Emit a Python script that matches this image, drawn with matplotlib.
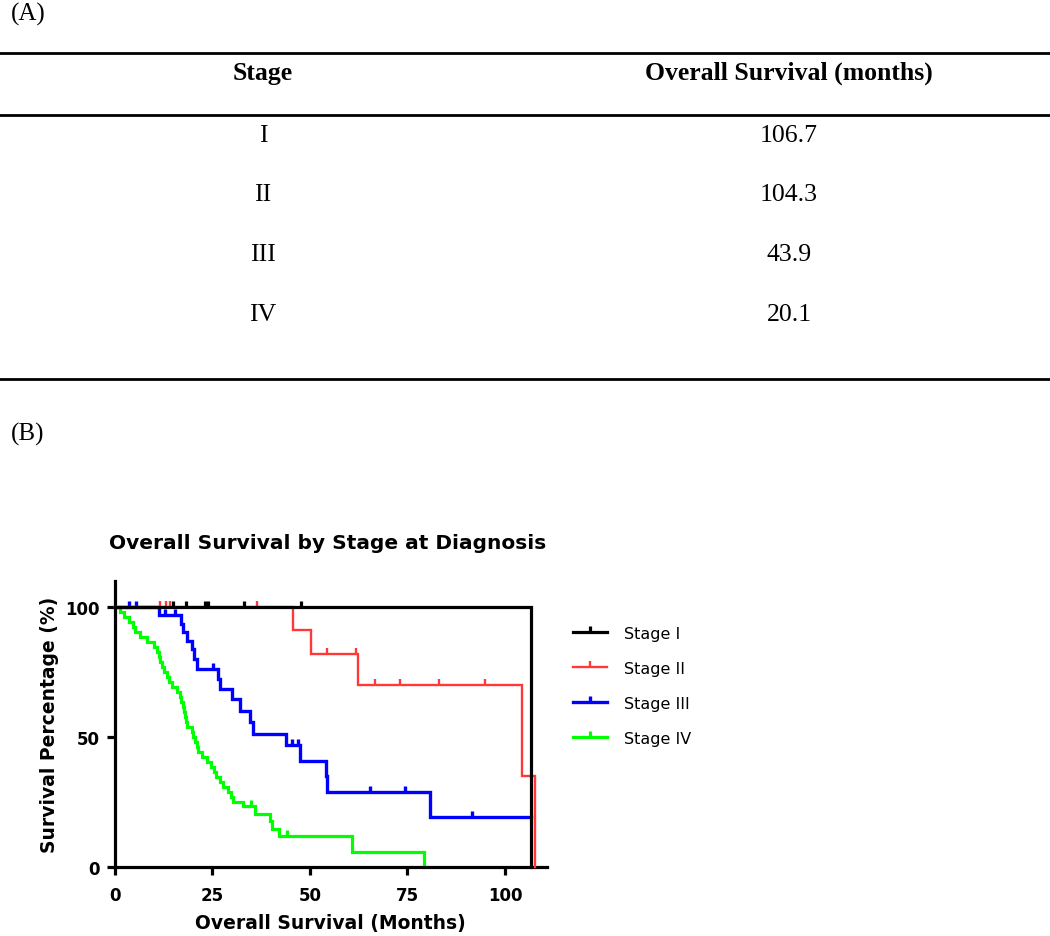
import numpy as np
import matplotlib
matplotlib.use("Agg")
import matplotlib.pyplot as plt
from matplotlib.path import Path
from matplotlib.lines import Line2D

# ---------------- (A) table data ----------------
table_headers = ["Stage", "Overall Survival (months)"]
table_stages = ["I", "II", "III", "IV"]
table_os_months = ["106.7", "104.3", "43.9", "20.1"]

# ---------------- (B) Kaplan-Meier data ----------------
series_labels = ["Stage I", "Stage II", "Stage III", "Stage IV"]
series_colors = ["#000000", "#FF3838", "#0000FF", "#00FF00"]

stage1_times = [0, 106.8]
stage1_surv = [100, 0]
stage1_censor = [15.0, 18.3, 23.0, 23.8, 33.1, 47.7]

stage2_times = [0, 45.7, 50.2, 62.4, 104.3, 107.7]
stage2_surv = [100, 90.9, 81.8, 70.1, 35.1, 0]
stage2_censor = [11.6, 13.2, 14.0, 36.3, 54.3, 61.8, 66.7, 73.2, 83.2, 95.0]

stage3_times = [0, 11.4, 16.8, 17.5, 18.4, 19.7, 20.3, 20.9, 26.5, 26.9, 29.9,
                32.1, 34.6, 35.5, 43.8, 47.4, 54.0, 54.4, 80.8, 106.8]
stage3_surv = [100, 96.7, 93.5, 90.3, 87.0, 83.8, 80.0, 76.2, 72.4, 68.5, 64.6,
               60.1, 55.7, 51.2, 46.7, 40.9, 34.8, 28.8, 19.1, 19.1]
stage3_censor = [3.5, 5.3, 12.8, 15.4, 25.2, 45.3, 47.0, 65.4, 74.4, 91.5]

stage4_times = [0, 1.2, 2.4, 3.6, 4.5, 5.1, 6.4, 8.2, 10.0, 10.7, 11.2, 11.6,
                12.1, 12.6, 13.3, 13.8, 14.5, 15.8, 16.7, 17.0, 17.5, 17.8,
                18.0, 18.2, 18.4, 19.7, 20.1, 20.5, 21.0, 21.4, 22.2, 23.5,
                24.6, 25.3, 25.8, 26.9, 27.8, 28.9, 29.7, 30.3, 32.9, 35.9,
                39.7, 40.3, 42.0, 60.7, 79.2]
stage4_surv = [100, 98.1, 96.2, 94.2, 92.3, 90.4, 88.5, 86.5, 84.6, 82.7, 80.8,
               78.8, 76.9, 75.0, 73.1, 71.2, 69.2, 67.3, 65.4, 63.5, 61.5, 59.6,
               57.7, 55.8, 53.8, 51.9, 50.0, 48.1, 46.2, 44.2, 42.3, 40.4,
               38.5, 36.5, 34.6, 32.7, 30.8, 28.8, 26.9, 25.0, 23.6, 20.4,
               17.5, 14.7, 11.8, 5.9, 0]
stage4_censor = [35.0, 44.0]

x_ticks = [0, 25, 50, 75, 100]
y_ticks = [0, 50, 100]

series = [
    (stage1_times, stage1_surv, stage1_censor, 2.3),
    (stage2_times, stage2_surv, stage2_censor, 1.7),
    (stage3_times, stage3_surv, stage3_censor, 2.4),
    (stage4_times, stage4_surv, stage4_censor, 2.3),
]

W, H = 1050, 937
fig = plt.figure(figsize=(W / 100, H / 100), dpi=100)
fig.patch.set_facecolor("white")

# ---------------- Table (A) ----------------
serif = ["Liberation Serif", "DejaVu Serif"]
ax_t = fig.add_axes([0, 1 - 400 / H, 1, 400 / H])
ax_t.set_xlim(0, W)
ax_t.set_ylim(400, 0)
ax_t.axis("off")
for yl in (54, 116, 380):
    ax_t.axhline(yl, color="black", lw=2.0)
ax_t.text(11, 21, "(A)", fontsize=18, family=serif, ha="left", va="baseline")
col_x = [263, 789]
for cx, hd in zip(col_x, table_headers):
    ax_t.text(cx, 80, hd, fontsize=18.5, family=serif, fontweight="bold",
              ha="center", va="baseline")
for i, (st, val) in enumerate(zip(table_stages, table_os_months)):
    yb = 141.5 + i * 60
    ax_t.text(col_x[0], yb, st, fontsize=18.5, family=serif, ha="center", va="baseline")
    ax_t.text(col_x[1], yb, val, fontsize=18.5, family=serif, ha="center", va="baseline")

fig.text(11 / W, 1 - 441 / H, "(B)", fontsize=18, family=serif, ha="left", va="baseline")

# ---------------- Kaplan-Meier (B) ----------------
sans = ["DejaVu Sans"]
ax = fig.add_axes([115 / W, 69 / H, (546.7 - 115) / W, (868 - 581.7) / H])
tick_marker = Path([[0, 0], [0, 1]])


def surv_at(times, surv, t):
    idx = np.searchsorted(np.asarray(times), t, side="right") - 1
    return np.asarray(surv)[idx]


handles = []
order = [3, 2, 1, 0]
for k in order:
    times, surv, cens, lw = series[k]
    col = series_colors[k]
    ax.step(times, surv, where="post", color=col, lw=lw, zorder=2 + (3 - k),
            solid_joinstyle="miter", clip_on=False)
    ax.plot(cens, surv_at(times, surv, cens), linestyle="none", marker=tick_marker,
            ms=9, mew=lw, mec=col, mfc="none", zorder=2 + (3 - k), clip_on=False)
for k in range(4):
    lw = series[k][3]
    handles.append(Line2D([0], [0], color=series_colors[k], lw=lw, marker=tick_marker,
                          ms=9, mew=lw, mec=series_colors[k], mfc="none"))

ax.set_xlim(0, 110.7)
ax.set_ylim(0, 110)
for s in ("top", "right"):
    ax.spines[s].set_visible(False)
for s in ("left", "bottom"):
    ax.spines[s].set_linewidth(2.3)
ax.set_xticks(x_ticks)
ax.set_yticks(y_ticks)
ax.set_xticklabels([str(v) for v in x_ticks])
ax.set_yticklabels([str(v) for v in y_ticks])
ax.tick_params(direction="out", length=6, width=2.3, labelsize=12)
ax.tick_params(axis="x", pad=8)
ax.tick_params(axis="y", pad=5)
for lab in ax.get_xticklabels() + ax.get_yticklabels():
    lab.set_fontweight("bold")
    lab.set_family(sans)

ax.set_xlabel("Overall Survival (Months)", fontsize=13.5, fontweight="bold", family=sans)
ax.xaxis.set_label_coords(0.5, (868 - 914) / (868 - 581.7))
ax.set_ylabel("Survival Percentage (%)", fontsize=13.5, fontweight="bold", family=sans,
              va="center")
ax.yaxis.set_label_coords((50 - 115) / (546.7 - 115), 0.5)

fig.text(328 / W, 1 - 549 / H, "Overall Survival by Stage at Diagnosis", fontsize=14.5,
         fontweight="bold", family=sans, ha="center", va="baseline")

fig.legend(handles, series_labels, loc="upper left",
           bbox_to_anchor=(573 / W, 1 - 627 / H), frameon=False, numpoints=1,
           handlelength=2.1, handletextpad=1.1, labelspacing=1.25, borderpad=0,
           borderaxespad=0, prop={"family": sans, "size": 11.5})

fig.savefig("out.png", dpi=100, facecolor="white")
